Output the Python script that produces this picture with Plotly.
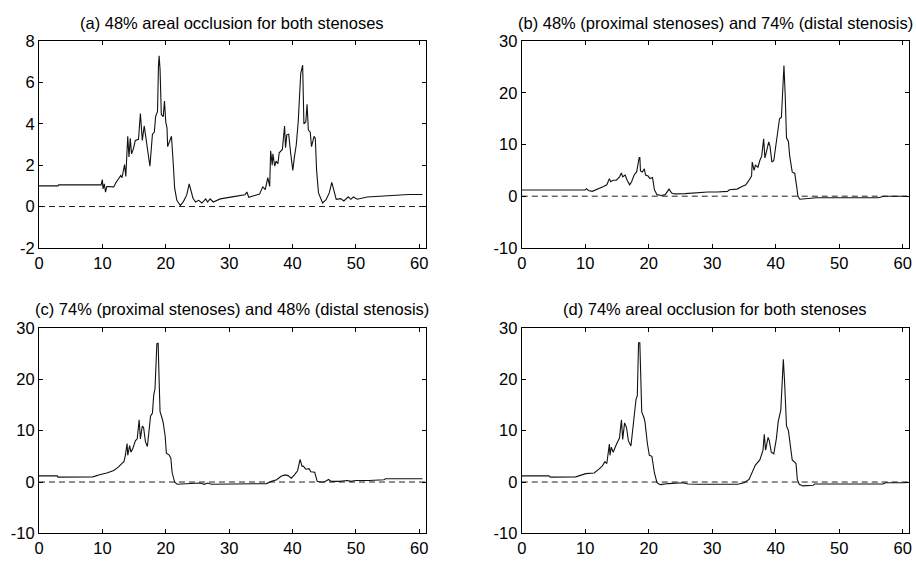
import plotly.graph_objects as go

# ---- data (time [s] vs. quantity) ----
t_a = [0, 3, 3.1, 9.8, 10.0, 10.1, 10.3, 10.5, 10.7, 11.8, 12.1, 12.6, 12.9, 13.1, 13.5, 13.7, 14.0, 14.2, 14.4,
       14.6, 14.9, 15.2, 15.7, 16.0, 16.3, 16.6, 16.8, 17.1, 17.5, 17.9, 18.2, 18.4, 18.7, 18.85, 18.95, 19.1,
       19.3, 19.6, 19.8, 20.0, 20.2, 20.3, 20.7, 20.9, 21.2, 21.4, 21.75, 22.3, 22.8, 23.3, 23.7, 24.0, 24.3,
       24.7, 25.2, 25.7, 26.3, 26.6, 27.0, 27.5, 28.6, 30.7, 32.5, 32.8, 33.1, 33.9, 34.8, 35.3, 35.7, 36.1,
       36.4, 36.55, 36.8, 36.9, 37.2, 37.4, 37.7, 37.9, 38.4, 38.75, 38.9, 39.1, 39.4, 39.7, 40.05, 40.3, 40.6,
       40.9, 41.3, 41.6, 41.8, 42.1, 42.3, 42.5, 42.8, 43.0, 43.4, 43.6, 43.8, 44.1, 44.75, 45.3, 45.8, 46.2,
       46.6, 46.9, 47.6, 48.1, 48.8, 49.2, 49.6, 50.2, 51.8, 54.1, 58.3, 60.5]
p_a = [1.0, 1.0, 1.05, 1.05, 1.3, 0.85, 1.1, 0.7, 0.97, 0.95, 1.14, 1.37, 1.5, 1.4, 2.03, 1.45, 3.4, 2.4, 3.3,
       2.55, 2.8, 3.2, 3.25, 4.5, 3.2, 3.9, 3.5, 2.7, 1.95, 3.5, 3.6, 4.35, 4.6, 6.8, 7.3, 6.65,
       4.45, 4.35, 5.1, 4.1, 3.8, 2.9, 3.3, 3.4, 2.0, 0.9, 0.3, 0.05, 0.25, 0.55, 1.1, 0.7, 0.4,
       0.22, 0.3, 0.17, 0.37, 0.22, 0.37, 0.22, 0.37, 0.48, 0.57, 0.7, 0.45, 0.52, 0.6, 0.95, 0.82, 1.4,
       0.97, 2.7, 2.0, 2.55, 1.95, 2.2, 2.07, 2.6, 2.76, 3.9, 2.85, 3.47, 3.5, 2.6, 1.75, 2.4, 3.0,
       4.1, 6.45, 6.85, 4.0, 4.1, 4.95, 3.7, 3.6, 2.9, 3.4, 3.3, 1.75, 0.66, 0.17, 0.33, 0.66, 1.17,
       0.66, 0.35, 0.38, 0.27, 0.47, 0.35, 0.46, 0.35, 0.46, 0.5, 0.58, 0.58]

t_b = [0, 10.0, 10.2, 10.5, 11.1, 12.2, 12.9, 13.4, 13.8, 14.0, 14.4, 14.9, 15.4, 15.7, 15.9, 16.3, 16.6, 17.0,
       17.3, 17.7, 18.1, 18.5, 18.6, 18.7, 19.0, 19.3, 19.5, 19.9, 20.2, 20.6, 20.9, 21.3, 22.0, 22.6, 23.2,
       23.6, 24.1, 25.7, 26.7, 27.7, 29.3, 30.8, 32.4, 32.7, 33.9, 34.7, 35.3, 35.8, 36.2, 36.3, 36.6, 36.8,
       37.2, 37.5, 37.8, 38.1, 38.3, 38.5, 38.9, 39.1, 39.4, 39.7, 40.2, 40.6, 40.9, 41.1, 41.3, 41.5, 41.7,
       42.0, 42.2, 42.6, 43.0, 43.3, 43.5, 43.8, 45.9, 46.4, 56.2, 57.0, 60.6]
p_b = [1.2, 1.2, 1.45, 1.1, 0.94, 1.44, 1.88, 2.2, 3.4, 2.8, 3.1, 3.1, 3.75, 4.5, 3.75, 4.1, 3.1, 2.2,
       2.8, 4.1, 4.7, 7.5, 7.5, 4.9, 4.7, 5.3, 4.1, 3.9, 3.4, 3.6, 1.25, 0.3, 0.13, 0.3, 1.37,
       0.6, 0.44, 0.5, 0.6, 0.56, 0.81, 0.81, 0.94, 1.25, 1.37, 1.87, 2.2, 3.1, 3.9, 6.6, 5.0, 6.0,
       5.6, 6.9, 7.8, 11.1, 7.4, 8.4, 10.5, 9.7, 6.6, 6.9, 11.9, 15.0, 15.3, 20.1, 25.3, 19.4, 11.3,
       10.6, 7.8, 4.7, 4.4, 1.9, 0.0, -0.6, -0.44, -0.3, -0.3, 0.0, 0.0]

t_c = [0, 2.9, 3.0, 8.5, 9.7, 10.7, 11.8, 12.5, 13.1, 13.4, 13.6, 13.9, 14.0, 14.3, 14.5, 14.8, 15.2, 15.5,
       15.8, 16.0, 16.3, 16.5, 16.8, 17.1, 17.6, 17.9, 18.1, 18.3, 18.6, 18.8, 18.95, 19.1, 19.4, 19.6, 19.9,
       20.1, 20.5, 20.8, 21.0, 21.4, 21.8, 24.3, 25.4, 26.1, 26.6, 27.2, 29.5, 33.7, 35.9, 36.7, 37.5, 38.2,
       38.8, 39.3, 39.8, 40.3, 40.8, 41.2, 41.5, 41.7, 42.1, 42.6, 42.9, 43.5, 43.9, 44.3, 45.0, 45.7, 46.1,
       47.4, 48.7, 49.2, 50.0, 52.1, 54.4, 54.7, 60.5]
p_c = [1.2, 1.2, 0.95, 1.0, 1.45, 1.76, 2.26, 2.9, 3.64, 3.95, 5.0, 7.5, 5.2, 7.1, 5.8, 6.5, 8.0, 8.4,
       12.1, 8.4, 10.9, 10.6, 7.8, 6.9, 12.8, 13.4, 16.9, 18.1, 26.9, 27.0, 20.0, 13.7, 12.5, 11.5, 9.0,
       5.6, 5.3, 4.7, 1.9, 0.0, -0.44, -0.3, -0.19, -0.44, -0.19, -0.44, -0.44, -0.44, -0.3, 0.13, 0.44, 1.13,
       1.38, 1.25, 0.75, 1.38, 2.2, 4.4, 3.1, 3.1, 2.5, 2.6, 2.0, 1.9, 0.13, 0.0, 0.0, 0.5, 0.13,
       0.13, 0.3, 0.13, 0.3, 0.3, 0.44, 0.63, 0.63]

t_d = [0, 4.3, 4.5, 8.5, 10.1, 11.4, 12.2, 12.7, 13.1, 13.4, 13.8, 13.9, 14.1, 14.4, 14.8, 15.1, 15.4, 15.7,
       15.9, 16.2, 16.5, 16.8, 17.2, 17.7, 18.0, 18.2, 18.4, 18.6, 18.7, 18.9, 19.2, 19.4, 19.8, 20.1, 20.5,
       20.9, 21.3, 21.8, 23.1, 24.6, 25.4, 26.2, 27.8, 34.0, 35.0, 35.8, 36.3, 36.8, 37.5, 38.0, 38.2, 38.4,
       38.8, 39.0, 39.3, 39.7, 40.1, 40.4, 40.8, 41.0, 41.2, 41.4, 41.7, 42.0, 42.3, 42.6, 43.2, 43.4, 43.7,
       44.3, 45.9, 46.1, 56.9, 57.3, 60.5]
p_d = [1.2, 1.2, 0.95, 1.0, 1.63, 1.76, 2.57, 3.14, 3.95, 3.6, 7.4, 5.2, 6.8, 5.8, 7.0, 7.9, 8.6, 12.1,
       8.3, 11.5, 10.6, 8.0, 7.0, 12.7, 16.1, 16.8, 27.1, 27.1, 21.1, 13.6, 12.7, 11.8, 7.4, 5.2, 5.0,
       1.76, -0.13, -0.5, -0.3, -0.25, -0.13, -0.38, -0.44, -0.44, -0.13, 0.5, 1.76, 3.3, 4.3, 6.2, 9.3, 6.2,
       8.7, 8.0, 5.8, 5.5, 8.4, 11.8, 14.0, 19.4, 23.9, 19.4, 10.9, 10.0, 7.2, 4.3, 3.6, 0.5, -0.44,
       -0.75, -0.63, -0.38, -0.38, -0.13, -0.13]

titles = ["(a) 48% areal occlusion for both stenoses",
          "(b) 48% (proximal stenoses) and 74% (distal stenosis)",
          "(c) 74% (proximal stenoses) and 48% (distal stenosis)",
          "(d) 74% areal occlusion for both stenoses"]
y_ranges = [[-2, 8], [-10, 30], [-10, 30], [-10, 30]]
y_tickvals = [[-2, 0, 2, 4, 6, 8], [-10, 0, 10, 20, 30], [-10, 0, 10, 20, 30], [-10, 0, 10, 20, 30]]
x_range = [0, 61]
x_tickvals = [0, 10, 20, 30, 40, 50, 60]
zero_x = [0, 61]
zero_y = [0, 0]

series = [(t_a, p_a), (t_b, p_b), (t_c, p_c), (t_d, p_d)]

W, H = 916, 565
# pixel boxes (left, right, top, bottom) and title centre heights
boxes = [(34.3, 424.3, 33.3, 246.7), (521.3, 912.0, 33.3, 246.7),
         (34.3, 424.3, 329.3, 541.7), (521.3, 912.0, 329.3, 541.7)]
title_y = [14, 14, 310, 310]

FONT = "Liberation Sans, Arial, Helvetica, sans-serif"
FS = 16.5
fig = go.Figure()
layout = dict(width=W, height=H, margin=dict(l=0, r=0, t=0, b=0),
              paper_bgcolor="white", plot_bgcolor="white", showlegend=False,
              font=dict(family=FONT, size=FS, color="black"))
annotations = []
for i, ((t, p), box) in enumerate(zip(series, boxes)):
    n = "" if i == 0 else str(i + 1)
    l, r, tp, bt = box
    xd = [l / W, r / W]
    yd = [1 - bt / H, 1 - tp / H]
    axis_common = dict(showline=True, linecolor="black", linewidth=1, mirror="ticks",
                       ticks="inside", ticklen=4, tickcolor="black", showgrid=False,
                       zeroline=False, tickfont=dict(family=FONT, size=FS, color="black"))
    layout["xaxis" + n] = dict(domain=xd, range=x_range, tickvals=x_tickvals,
                               ticktext=[str(v) for v in x_tickvals],
                               anchor="y" + n, **axis_common)
    layout["yaxis" + n] = dict(domain=yd, range=y_ranges[i], tickvals=y_tickvals[i],
                               ticktext=[str(v) for v in y_tickvals[i]],
                               anchor="x" + n, **axis_common)
    fig.add_trace(go.Scatter(x=zero_x, y=zero_y, mode="lines", xaxis="x" + n, yaxis="y" + n,
                             line=dict(color="#222", width=1, dash="6px,4px"), hoverinfo="skip"))
    fig.add_trace(go.Scatter(x=t, y=p, mode="lines", xaxis="x" + n, yaxis="y" + n,
                             line=dict(color="#111", width=1.1)))
    annotations.append(dict(text=titles[i], xref="paper", yref="paper",
                            x=(l + r) / 2 / W, y=1 - title_y[i] / H, xanchor="center", yanchor="middle",
                            showarrow=False, font=dict(family=FONT, size=FS, color="black")))
layout["annotations"] = annotations
fig.update_layout(**layout)
fig.write_html("out.html")
